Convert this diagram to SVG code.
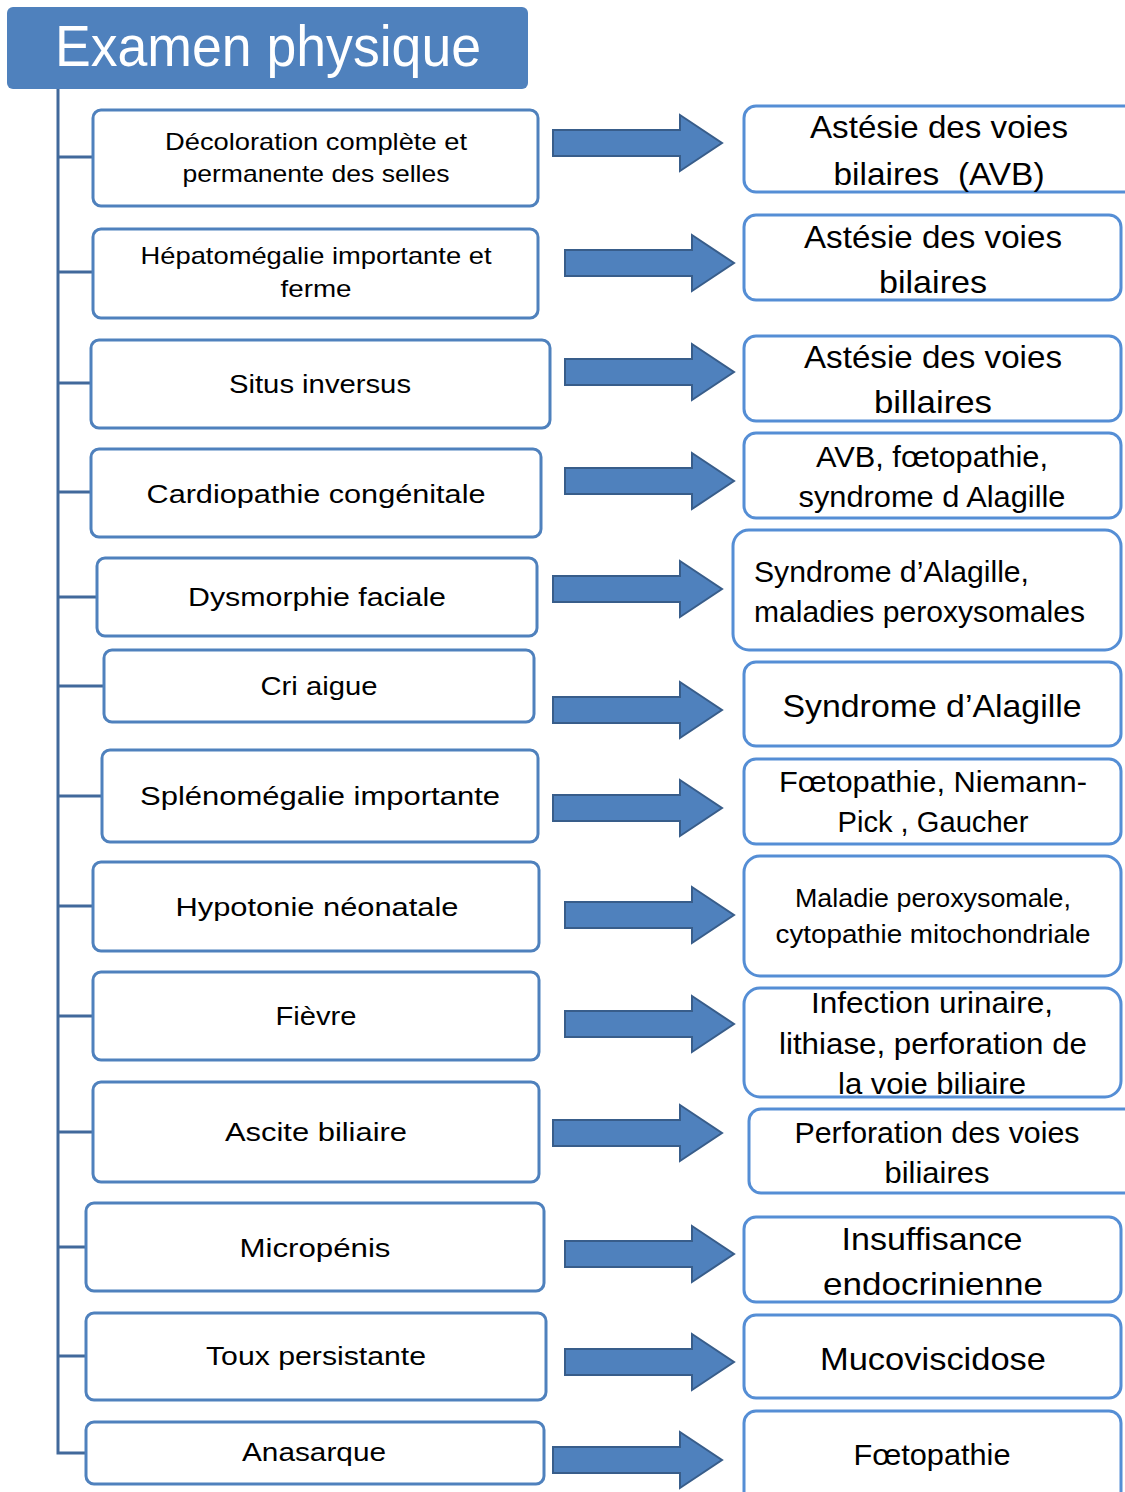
<svg xmlns="http://www.w3.org/2000/svg" xmlns:xlink="http://www.w3.org/1999/xlink" width="1125" height="1492" viewBox="0 0 1125 1492">
<style>
text{font-family:"Liberation Sans","DejaVu Sans",sans-serif;fill:#000;text-anchor:middle}
.L{fill:#fff;stroke:#4F81BD;stroke-width:3}
.R{fill:#fff;stroke:#558ED5;stroke-width:3}
.ls{font-size:26px}
.ls2{font-size:24px}
.rb{font-size:32px}
.rm{font-size:29px}
.rs{font-size:25px}
.tree{fill:none;stroke:#41699B;stroke-width:3}
.arr{fill:#4F81BD;stroke:#385D8A;stroke-width:2}
</style>
<defs>
<polygon id="arrow" class="arr" points="0,-13 127,-13 127,-28 169,0 127,28 127,13 0,13"/>
</defs>
<rect width="1125" height="1492" fill="#fff"/>
<g id="header">
<rect x="7" y="7" width="521" height="82" rx="6" fill="#4F81BD"/>
<text x="268" y="66" style="font-size:57px;fill:#fff" textLength="426" lengthAdjust="spacingAndGlyphs">Examen physique</text>
</g>
<g id="connectors">
<path class="tree" d="M58,89 V1453 H86 M58,157 H93 M58,272 H93 M58,383 H91 M58,492 H91 M58,597 H97 M58,686 H104 M58,796 H102 M58,906 H93 M58,1016 H93 M58,1132 H93 M58,1247 H86 M58,1356 H86"/>
<use xlink:href="#arrow" x="553" y="143"/>
<use xlink:href="#arrow" x="565" y="263"/>
<use xlink:href="#arrow" x="565" y="372"/>
<use xlink:href="#arrow" x="565" y="481"/>
<use xlink:href="#arrow" x="553" y="589"/>
<use xlink:href="#arrow" x="553" y="710"/>
<use xlink:href="#arrow" x="553" y="808"/>
<use xlink:href="#arrow" x="565" y="915"/>
<use xlink:href="#arrow" x="565" y="1024"/>
<use xlink:href="#arrow" x="553" y="1133"/>
<use xlink:href="#arrow" x="565" y="1254"/>
<use xlink:href="#arrow" x="565" y="1362"/>
<use xlink:href="#arrow" x="553" y="1460"/>
</g>
<g id="s1"><rect class="L" x="93" y="110" width="445" height="96" rx="8"/>
<text class="ls2" x="316" y="150" textLength="302" lengthAdjust="spacingAndGlyphs">Décoloration complète et</text>
<text class="ls2" x="316" y="182" textLength="267" lengthAdjust="spacingAndGlyphs">permanente des selles</text></g>
<g id="s2"><rect class="L" x="93" y="229" width="445" height="89" rx="8"/>
<text class="ls2" x="316" y="264" textLength="351" lengthAdjust="spacingAndGlyphs">Hépatomégalie importante et</text>
<text class="ls2" x="316" y="297" textLength="71" lengthAdjust="spacingAndGlyphs">ferme</text></g>
<g id="s3"><rect class="L" x="91" y="340" width="459" height="88" rx="8"/>
<text class="ls" x="320" y="393" textLength="182" lengthAdjust="spacingAndGlyphs">Situs inversus</text></g>
<g id="s4"><rect class="L" x="91" y="449" width="450" height="88" rx="8"/>
<text class="ls" x="316" y="503" textLength="339" lengthAdjust="spacingAndGlyphs">Cardiopathie congénitale</text></g>
<g id="s5"><rect class="L" x="97" y="558" width="440" height="78" rx="8"/>
<text class="ls" x="317" y="606" textLength="258" lengthAdjust="spacingAndGlyphs">Dysmorphie faciale</text></g>
<g id="s6"><rect class="L" x="104" y="650" width="430" height="72" rx="8"/>
<text class="ls" x="319" y="695" textLength="117" lengthAdjust="spacingAndGlyphs">Cri aigue</text></g>
<g id="s7"><rect class="L" x="102" y="750" width="436" height="92" rx="8"/>
<text class="ls" x="320" y="805" textLength="360" lengthAdjust="spacingAndGlyphs">Splénomégalie importante</text></g>
<g id="s8"><rect class="L" x="93" y="862" width="446" height="89" rx="8"/>
<text class="ls" x="317" y="916" textLength="283" lengthAdjust="spacingAndGlyphs">Hypotonie néonatale</text></g>
<g id="s9"><rect class="L" x="93" y="972" width="446" height="88" rx="8"/>
<text class="ls" x="316" y="1025" textLength="81" lengthAdjust="spacingAndGlyphs">Fièvre</text></g>
<g id="s10"><rect class="L" x="93" y="1082" width="446" height="100" rx="8"/>
<text class="ls" x="316" y="1141" textLength="182" lengthAdjust="spacingAndGlyphs">Ascite biliaire</text></g>
<g id="s11"><rect class="L" x="86" y="1203" width="458" height="88" rx="8"/>
<text class="ls" x="315" y="1257" textLength="151" lengthAdjust="spacingAndGlyphs">Micropénis</text></g>
<g id="s12"><rect class="L" x="86" y="1313" width="460" height="87" rx="8"/>
<text class="ls" x="316" y="1365" textLength="220" lengthAdjust="spacingAndGlyphs">Toux persistante</text></g>
<g id="s13"><rect class="L" x="86" y="1422" width="458" height="62" rx="8"/>
<text class="ls" x="314" y="1461" textLength="144" lengthAdjust="spacingAndGlyphs">Anasarque</text></g>
<g id="r1"><rect class="R" x="744" y="106" width="395" height="86" rx="12"/>
<text class="rb" x="939" y="138" textLength="258" lengthAdjust="spacingAndGlyphs">Astésie des voies</text>
<text class="rb" x="939" y="185" textLength="211" lengthAdjust="spacingAndGlyphs" xml:space="preserve">bilaires  (AVB)</text></g>
<g id="r2"><rect class="R" x="744" y="215" width="377" height="85" rx="12"/>
<text class="rb" x="933" y="248" textLength="258" lengthAdjust="spacingAndGlyphs">Astésie des voies</text>
<text class="rb" x="933" y="293" textLength="108" lengthAdjust="spacingAndGlyphs">bilaires</text></g>
<g id="r3"><rect class="R" x="744" y="336" width="377" height="85" rx="12"/>
<text class="rb" x="933" y="368" textLength="258" lengthAdjust="spacingAndGlyphs">Astésie des voies</text>
<text class="rb" x="933" y="413" textLength="118" lengthAdjust="spacingAndGlyphs">billaires</text></g>
<g id="r4"><rect class="R" x="744" y="433" width="377" height="85" rx="12"/>
<text class="rm" x="932" y="467" textLength="232" lengthAdjust="spacingAndGlyphs">AVB, fœtopathie,</text>
<text class="rm" x="932" y="507" textLength="267" lengthAdjust="spacingAndGlyphs">syndrome d Alagille</text></g>
<g id="r5"><rect class="R" x="733" y="530" width="388" height="120" rx="16"/>
<text class="rm" x="754" y="582" style="text-anchor:start" textLength="275" lengthAdjust="spacingAndGlyphs">Syndrome d’Alagille,</text>
<text class="rm" x="754" y="622" style="text-anchor:start" textLength="331" lengthAdjust="spacingAndGlyphs">maladies peroxysomales</text></g>
<g id="r6"><rect class="R" x="744" y="662" width="377" height="84" rx="12"/>
<text class="rb" x="932" y="717" textLength="299" lengthAdjust="spacingAndGlyphs">Syndrome d’Alagille</text></g>
<g id="r7"><rect class="R" x="744" y="759" width="377" height="85" rx="12"/>
<text class="rm" x="933" y="792" textLength="308" lengthAdjust="spacingAndGlyphs">Fœtopathie, Niemann-</text>
<text class="rm" x="933" y="832" textLength="191" lengthAdjust="spacingAndGlyphs">Pick , Gaucher</text></g>
<g id="r8"><rect class="R" x="744" y="856" width="377" height="120" rx="16"/>
<text class="rs" x="933" y="907" textLength="276" lengthAdjust="spacingAndGlyphs">Maladie peroxysomale,</text>
<text class="rs" x="933" y="943" textLength="315" lengthAdjust="spacingAndGlyphs">cytopathie mitochondriale</text></g>
<g id="r9"><rect class="R" x="744" y="988" width="377" height="109" rx="16"/>
<text class="rm" x="932" y="1013" textLength="242" lengthAdjust="spacingAndGlyphs">Infection urinaire,</text>
<text class="rm" x="933" y="1054" textLength="308" lengthAdjust="spacingAndGlyphs">lithiase, perforation de</text>
<text class="rm" x="932" y="1094" textLength="188" lengthAdjust="spacingAndGlyphs">la voie biliaire</text></g>
<g id="r10"><rect class="R" x="749" y="1109" width="390" height="84" rx="12"/>
<text class="rm" x="937" y="1143" textLength="285" lengthAdjust="spacingAndGlyphs">Perforation des voies</text>
<text class="rm" x="937" y="1183" textLength="105" lengthAdjust="spacingAndGlyphs">biliaires</text></g>
<g id="r11"><rect class="R" x="744" y="1217" width="377" height="85" rx="12"/>
<text class="rb" x="932" y="1250" textLength="181" lengthAdjust="spacingAndGlyphs">Insuffisance</text>
<text class="rb" x="933" y="1295" textLength="220" lengthAdjust="spacingAndGlyphs">endocrinienne</text></g>
<g id="r12"><rect class="R" x="744" y="1315" width="377" height="83" rx="12"/>
<text class="rb" x="933" y="1370" textLength="226" lengthAdjust="spacingAndGlyphs">Mucoviscidose</text></g>
<g id="r13"><rect class="R" x="744" y="1411" width="377" height="100" rx="12"/>
<text class="rm" x="932" y="1465" textLength="157" lengthAdjust="spacingAndGlyphs">Fœtopathie</text></g>
</svg>
